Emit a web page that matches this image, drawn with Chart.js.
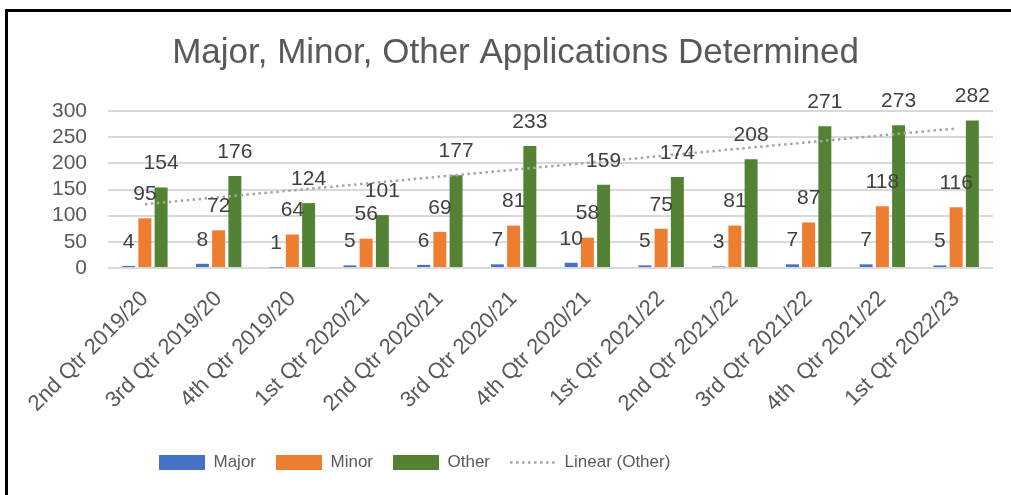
<!DOCTYPE html>
<html>
<head>
<meta charset="utf-8">
<script src="https://cdn.jsdelivr.net/npm/chart.js@4.4.1/dist/chart.umd.min.js"></script>
<style>
  html, body { margin: 0; padding: 0; background: #fff; overflow: hidden; }
  #wrap { position: relative; width: 1011px; height: 495px; }
  #frame {
    position: absolute; left: 5px; top: 9px; right: -20px; bottom: -20px;
    border-top: 3px solid #000; border-left: 3px solid #000; pointer-events: none;
  }
</style>
</head>
<body>
<div id="wrap">
  <canvas id="chart"></canvas>
  <div id="frame"></div>
</div>
<script>
// quarters shown on the x axis
const quarters = [
  '2nd Qtr 2019/20', '3rd Qtr 2019/20', '4th Qtr 2019/20', '1st Qtr 2020/21',
  '2nd Qtr 2020/21', '3rd Qtr 2020/21', '4th Qtr 2020/21', '1st Qtr 2021/22',
  '2nd Qtr 2021/22', '3rd Qtr 2021/22', '4th  Qtr 2021/22', '1st Qtr 2022/23'
];
const major = [4, 8, 1, 5, 6, 7, 10, 5, 3, 7, 7, 5];
const minor = [95, 72, 64, 56, 69, 81, 58, 75, 81, 87, 118, 116];
const other = [154, 176, 124, 101, 177, 233, 159, 174, 208, 271, 273, 282];
const yTicks = [0, 50, 100, 150, 200, 250, 300];

const FONT = "'Liberation Sans', Arial, sans-serif";
const GREY = '#595959';

// least squares line through the Other series, like Excel's "Linear" trendline
function linearFit(ys) {
  const n = ys.length;
  const mx = (n + 1) / 2;
  const my = ys.reduce((a, b) => a + b, 0) / n;
  let sxy = 0, sxx = 0;
  ys.forEach((y, i) => { sxy += (i + 1 - mx) * (y - my); sxx += (i + 1 - mx) ** 2; });
  const slope = sxy / sxx;
  return ys.map((_, i) => my + slope * (i + 1 - mx));
}
const otherTrend = linearFit(other);

// value labels above each bar
const barLabels = {
  id: 'barLabels',
  afterDatasetsDraw(chart) {
    const ctx = chart.ctx;
    ctx.save();
    ctx.font = '21px ' + FONT;
    ctx.fillStyle = '#404040';
    ctx.textAlign = 'center';
    ctx.textBaseline = 'middle';
    chart.data.datasets.forEach((ds, i) => {
      if (ds.type === 'line') return;
      chart.getDatasetMeta(i).data.forEach((bar, j) => {
        ctx.fillText(String(ds.data[j]), bar.x, bar.y - 24);
      });
    });
    ctx.restore();
  }
};

// title and legend are off centre in the original; also draws the dotted trend sample
const layoutTweak = {
  id: 'layoutTweak',
  afterLayout(chart) {
    const lg = chart.legend;
    const w = lg.right - lg.left;
    lg.left = 159 - lg.options.labels.padding;
    lg.right = lg.left + w;
    const tb = chart.titleBlock;
    tb.left += 19;
    tb.right += 19;
  },
  afterDraw(chart) {
    const lg = chart.legend;
    const hb = lg.legendHitBoxes[3];
    if (!hb) return;
    const ctx = chart.ctx;
    ctx.save();
    ctx.strokeStyle = '#a5a5a5';
    ctx.lineWidth = 2.5;
    ctx.setLineDash([2.5, 3.5]);
    ctx.beginPath();
    const y = hb.top + hb.height / 2;
    ctx.moveTo(hb.left, y);
    ctx.lineTo(hb.left + 46, y);
    ctx.stroke();
    ctx.restore();
  }
};

new Chart(document.getElementById('chart'), {
  data: {
    labels: quarters,
    datasets: [
      { type: 'bar', label: 'Major', data: major, backgroundColor: '#4472C4', order: 1 },
      { type: 'bar', label: 'Minor', data: minor, backgroundColor: '#ED7D31', order: 1 },
      { type: 'bar', label: 'Other', data: other, backgroundColor: '#548235', order: 1 },
      {
        type: 'line', label: 'Linear (Other)', data: otherTrend, order: 0,
        borderColor: '#a5a5a5', borderWidth: 2.5, borderDash: [2.5, 3.5],
        pointRadius: 0, fill: false, tension: 0
      }
    ]
  },
  options: {
    responsive: true,
    maintainAspectRatio: false,
    animation: false,
    categoryPercentage: 0.66,
    barPercentage: 0.8,
    layout: { padding: { left: 0, right: 18, top: 0, bottom: 14 } },
    plugins: {
      title: {
        display: true,
        text: 'Major, Minor, Other Applications Determined',
        color: GREY,
        font: { family: FONT, size: 35, weight: 'normal' },
        padding: { top: 32, bottom: 37 }
      },
      legend: {
        position: 'bottom',
        align: 'start',
        labels: {
          color: GREY,
          font: { family: FONT, size: 17 },
          boxWidth: 46,
          boxHeight: 15,
          padding: 20,
          generateLabels(chart) {
            const items = Chart.defaults.plugins.legend.labels.generateLabels(chart);
            items.sort((a, b) => a.datasetIndex - b.datasetIndex);
            items.forEach(it => {
              it.lineWidth = 0;
              if (it.datasetIndex === 3) {
                it.fillStyle = 'rgba(0,0,0,0)';
                it.strokeStyle = 'rgba(0,0,0,0)';
              }
            });
            return items;
          }
        }
      },
      tooltip: { enabled: false }
    },
    scales: {
      x: {
        grid: { display: false },
        border: { display: false },
        ticks: {
          color: GREY,
          font: { family: FONT, size: 22 },
          maxRotation: 45,
          minRotation: 45,
          autoSkip: false,
          padding: 10
        },
        afterFit(scale) { scale.height = 166; }
      },
      y: {
        min: yTicks[0],
        max: yTicks[yTicks.length - 1],
        grid: { color: '#d9d9d9', lineWidth: 2, drawTicks: false },
        border: { display: false },
        ticks: {
          stepSize: yTicks[1] - yTicks[0],
          autoSkip: false,
          color: GREY,
          font: { family: FONT, size: 21 },
          padding: 21
        },
        afterFit(scale) { scale.width = 108; }
      }
    }
  },
  plugins: [barLabels, layoutTweak]
});
</script>
</body>
</html>
